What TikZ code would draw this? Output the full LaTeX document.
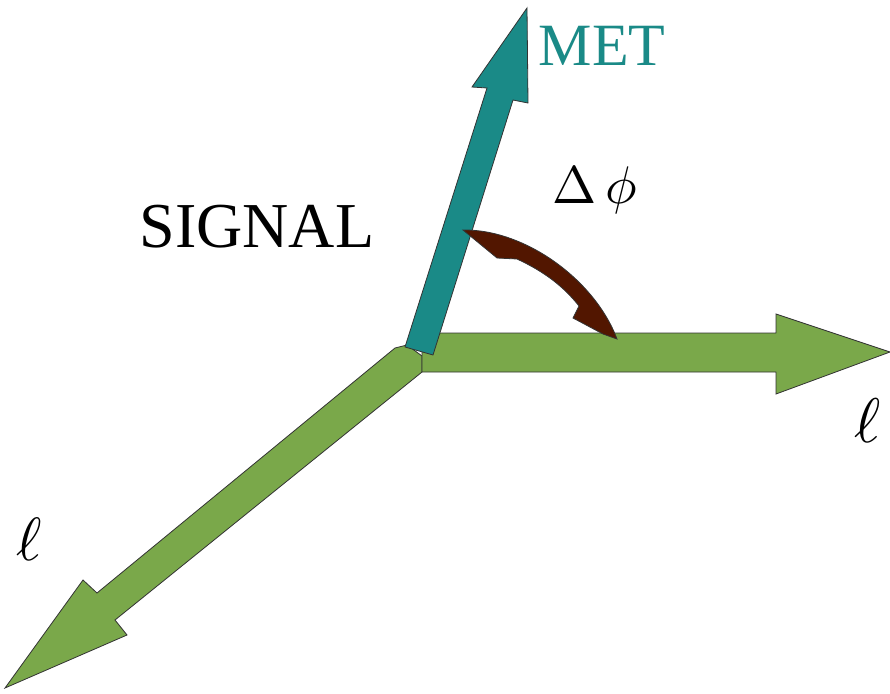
\documentclass[tikz,border=0pt]{standalone}
\usepackage{fontspec}
\setmainfont{Liberation Serif}

\definecolor{metteal}{RGB}{26,138,135}
\definecolor{lepgreen}{RGB}{122,168,74}
\definecolor{arcbrown}{RGB}{82,22,0}

\tikzset{
  blockarrow/.style={draw=black!80, line width=0.8pt, line join=miter},
  biglabel/.style={inner sep=0pt, anchor=base, font=\fontsize{#1}{#1}\selectfont},
  mathlabel/.style={inner sep=0pt, anchor=base, scale=#1},
}

\begin{document}
\begin{tikzpicture}[x=1pt, y=-1pt]

  \useasboundingbox (0,0) rectangle (890,693);

  % lepton arrow pointing down-left
  \filldraw[blockarrow, fill=lepgreen]
    (395,348) -- (407,345) -- (422,356) -- (422,372) -- (115,620)
    -- (127,635) -- (5,688) -- (83,580) -- (97,593) -- cycle;

  % lepton arrow pointing right
  \filldraw[blockarrow, fill=lepgreen]
    (422,333) -- (776,333) -- (776,314) -- (890,352)
    -- (776,394) -- (776,372) -- (422,372) -- cycle;

  % missing energy arrow
  \filldraw[blockarrow, fill=metteal]
    (405,347) -- (487,88) -- (472,87) -- (527,8)
    -- (528,103) -- (513,100) -- (433,355) -- cycle;

  % angle between them
  \filldraw[draw=black!80, line width=0.8pt, fill=arcbrown]
    (463,230) .. controls (525,229) and (595,280) .. (617,339)
    -- (603,334) -- (573,318) -- (579,306)
    .. controls (564,287) and (545,272) .. (517,259)
    -- (497,258) -- cycle;

  % labels
  \node[biglabel=64] (signal) at (257,247) {SIGNAL};
  \node[biglabel=60, text=metteal] (met) at (602,65) {MET};
  \node[mathlabel=5.3, anchor=base west] (dphi) at (551,203) {$\Delta\,\phi$};
  \node[mathlabel=6.3] (lright) at (868,442) {$\ell$};
  \node[mathlabel=6.1] (lleft) at (29,560) {$\ell$};

\end{tikzpicture}
\end{document}
